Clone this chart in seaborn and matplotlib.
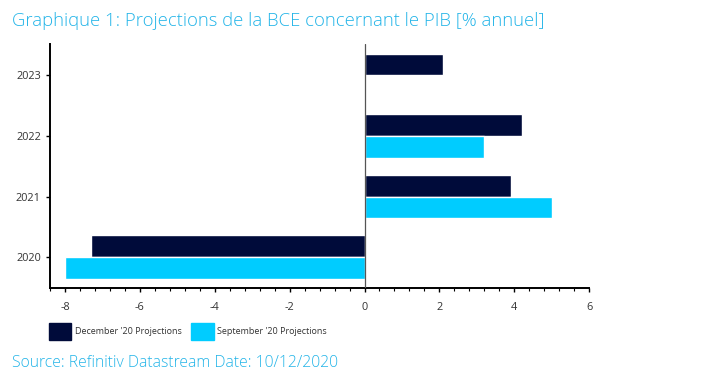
import numpy as np
import pandas as pd
import seaborn as sns
import matplotlib.pyplot as plt
from matplotlib.ticker import MultipleLocator

years = ["2023", "2022", "2021", "2020"]
december = [2.1, 4.2, 3.9, -7.3]
september = [np.nan, 3.2, 5.0, -8.0]
series_names = ["December '20 Projections", "September '20 Projections"]
colors = ["#000B3A", "#00CCFF"]

df = pd.DataFrame({
    "year": years * 2,
    "value": december + september,
    "series": [series_names[0]] * len(years) + [series_names[1]] * len(years),
})

sns.set_style("white")
plt.rcParams["font.family"] = ["Open Sans", "DejaVu Sans"]
plt.rcParams["axes.unicode_minus"] = False

fig = plt.figure(figsize=(7.03, 3.85), dpi=100)
ax = fig.add_axes([0.0711, 0.252, 0.767, 0.634])

sns.barplot(data=df, x="value", y="year", hue="series", order=years,
            hue_order=series_names, palette=colors, orient="h",
            width=0.72, ax=ax, legend=False, saturation=1)

ax.axvline(0, color="#555555", lw=0.9, zorder=3)
ax.set_xlim(-8.4, 6)
ax.set_ylim(3.51, -0.52)
ax.xaxis.set_major_locator(MultipleLocator(2))
ax.xaxis.set_minor_locator(MultipleLocator(0.4))
ax.set_xlabel("")
ax.set_ylabel("")

for s in ["top", "right"]:
    ax.spines[s].set_visible(False)
for s in ["left", "bottom"]:
    ax.spines[s].set_color("black")
    ax.spines[s].set_linewidth(1.4)

ax.tick_params(axis="both", which="major", direction="out", length=3,
               width=1, color="black", labelsize=7.8, labelcolor="#333333",
               left=True, bottom=True)
ax.tick_params(axis="x", which="minor", direction="out", length=2,
               width=0.8, color="black", bottom=True)
ax.tick_params(axis="x", pad=7)

handles = [plt.Rectangle((0, 0), 1, 1, color=c) for c in colors]
fig.legend(handles, series_names, loc="lower left",
           bbox_to_anchor=(0.058, 0.095), ncol=2, frameon=False,
           fontsize=6.5, handlelength=2.5, handleheight=2.6,
           columnspacing=1.05, handletextpad=0.35, labelcolor="#333333")

fig.text(0.017, 0.945, "Graphique 1: Projections de la BCE concernant le PIB [% annuel]",
         color="#22B4E8", fontsize=13.3, fontweight="light", va="center", ha="left")
fig.text(0.017, 0.058, "Source: Refinitiv Datastream Date: 10/12/2020",
         color="#22B4E8", fontsize=11.3, fontweight="light", va="center", ha="left")

fig.savefig("out.png", dpi=100)
